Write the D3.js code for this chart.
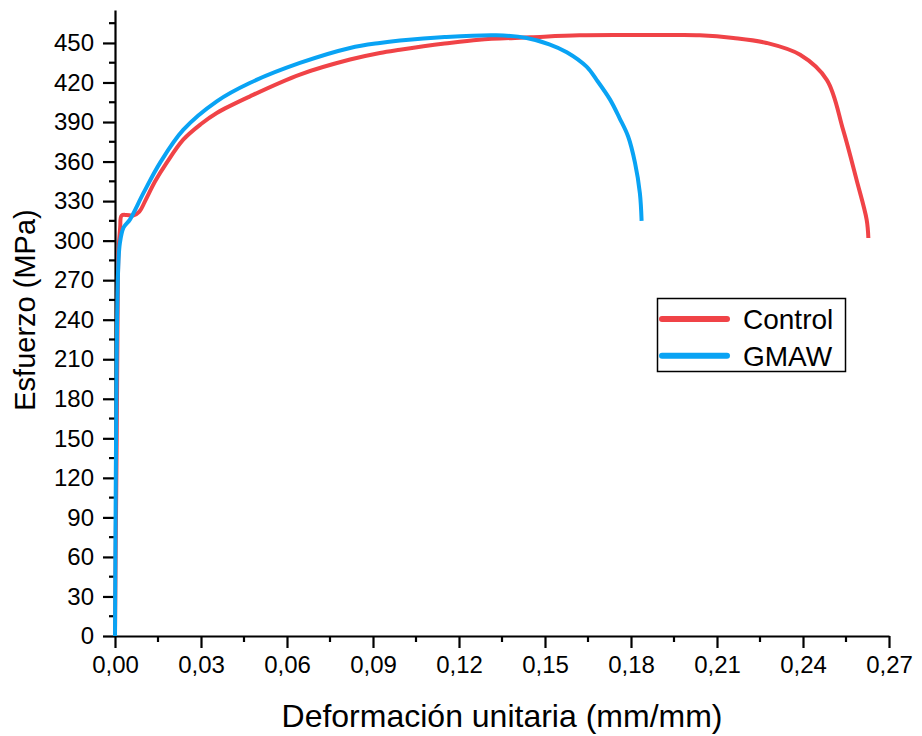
<!DOCTYPE html>
<html>
<head>
<meta charset="utf-8">
<script src="https://cdn.jsdelivr.net/npm/d3@7"></script>
<style>
  html, body { margin: 0; padding: 0; background: #fff; }
  svg { display: block; font-family: "Liberation Sans", Arial, sans-serif; }
</style>
</head>
<body>
<svg id="chart" width="922" height="736"></svg>
<script>
// ---- Data ----
const seriesNames = ["Control", "GMAW"];
const seriesColors = ["#F04347", "#09A3F4"];

const controlStrain = [0, 0.0003, 0.0006, 0.0009, 0.0012, 0.0018, 0.0023, 0.004, 0.0063, 0.0085, 0.0105, 0.014, 0.018, 0.0238, 0.03, 0.0355, 0.0471, 0.0645, 0.082, 0.0924, 0.0994, 0.115, 0.127, 0.145, 0.162, 0.18, 0.195, 0.204, 0.2157, 0.2273, 0.239, 0.2483, 0.254, 0.2587, 0.2622, 0.2628];
const controlStress = [0, 80, 150, 240, 290, 310, 319, 319.5, 319, 322, 330, 345, 359, 376.6, 388.5, 396.9, 409.5, 426, 437.4, 442.4, 444.8, 449.5, 452.5, 454.3, 455.8, 456, 456, 455.8, 453.8, 450, 441, 422, 384, 346, 316, 302];

const gmawStrain = [0, 0.0003, 0.0006, 0.0011, 0.0017, 0.003, 0.0052, 0.0099, 0.0157, 0.0238, 0.0355, 0.047, 0.0645, 0.082, 0.0924, 0.0994, 0.115, 0.133, 0.1436, 0.1515, 0.1576, 0.1645, 0.168, 0.1727, 0.176, 0.179, 0.1814, 0.1831, 0.1837];
const gmawStress = [0, 130, 215, 278, 298, 310, 316, 336, 359, 384, 405.7, 419.6, 434.8, 446.2, 450, 451.8, 454.5, 455.8, 453.8, 449, 443, 432, 422, 407, 393, 379, 359, 336, 315];

const xTicks = [0, 0.03, 0.06, 0.09, 0.12, 0.15, 0.18, 0.21, 0.24, 0.27];
const yTicks = [0, 30, 60, 90, 120, 150, 180, 210, 240, 270, 300, 330, 360, 390, 420, 450];
const xTitle = "Deformación unitaria (mm/mm)";
const yTitle = "Esfuerzo (MPa)";

// ---- Layout ----
const svg = d3.select("#chart");
const mLeft = 115, mRight = 889, mTop = 10, mBottom = 636;

const x = d3.scaleLinear().domain([0, 0.27]).range([mLeft, mRight]);
const y = d3.scaleLinear().domain([0, 475]).range([mBottom, mTop]);

const fmt = v => d3.format(".2f")(v).replace(".", ",");

// minor ticks
const xMinor = d3.range(0.015, 0.27, 0.03);
const yMinor = d3.range(15, 475, 30);

// X axis
const xAxis = svg.append("g").attr("transform", `translate(0,${mBottom})`);
xAxis.call(d3.axisBottom(x).tickValues(xTicks).tickFormat(fmt).tickSize(12).tickSizeOuter(0).tickPadding(8));
xAxis.select(".domain").attr("stroke", "#000").attr("stroke-width", 2.2);
xAxis.selectAll(".tick line").attr("stroke", "#000").attr("stroke-width", 2.2);
xAxis.selectAll(".tick text").attr("font-size", 24).attr("fill", "#000").attr("font-family", "Liberation Sans, Arial, sans-serif");
xAxis.selectAll(".minor").data(xMinor).enter().append("line")
  .attr("x1", d => x(d)).attr("x2", d => x(d)).attr("y1", 0).attr("y2", 6)
  .attr("stroke", "#000").attr("stroke-width", 2.2);

// Y axis
const yAxis = svg.append("g").attr("transform", `translate(${mLeft},0)`);
yAxis.call(d3.axisLeft(y).tickValues(yTicks).tickFormat(d3.format("d")).tickSize(12).tickSizeOuter(0).tickPadding(9));
yAxis.select(".domain").attr("stroke", "#000").attr("stroke-width", 2.2);
yAxis.selectAll(".tick line").attr("stroke", "#000").attr("stroke-width", 2.2);
yAxis.selectAll(".tick text").attr("font-size", 24).attr("fill", "#000").attr("font-family", "Liberation Sans, Arial, sans-serif");
yAxis.selectAll(".minor").data(yMinor).enter().append("line")
  .attr("y1", d => y(d)).attr("y2", d => y(d)).attr("x1", 0).attr("x2", -6)
  .attr("stroke", "#000").attr("stroke-width", 2.2);

// Titles
svg.append("text").attr("x", 502).attr("y", 727)
  .attr("text-anchor", "middle").attr("font-size", 32).attr("fill", "#000").text(xTitle);
svg.append("text").attr("transform", `translate(35,310) rotate(-90)`)
  .attr("text-anchor", "middle").attr("font-size", 29).attr("fill", "#000").text(yTitle);

// Lines
const line = d3.line().x(d => x(d[0])).y(d => y(d[1])).curve(d3.curveCatmullRom.alpha(0.5));
const series = [
  d3.zip(controlStrain, controlStress),
  d3.zip(gmawStrain, gmawStress)
];
series.forEach((s, i) => {
  svg.append("path").datum(s).attr("d", line)
    .attr("fill", "none").attr("stroke", seriesColors[i]).attr("stroke-width", 4)
    .attr("stroke-linejoin", "round").attr("stroke-linecap", "butt");
});

// Legend
const lg = svg.append("g");
lg.append("rect").attr("x", 657.5).attr("y", 298.5).attr("width", 188).attr("height", 73)
  .attr("fill", "#fff").attr("stroke", "#000").attr("stroke-width", 1.5);
seriesNames.forEach((n, i) => {
  const yy = 319 + i * 36.7;
  lg.append("line").attr("x1", 662).attr("x2", 727).attr("y1", yy).attr("y2", yy)
    .attr("stroke", seriesColors[i]).attr("stroke-width", 6).attr("stroke-linecap", "round");
  lg.append("text").attr("x", 743).attr("y", yy + 10).attr("font-size", 28).attr("fill", "#000").text(n);
});
</script>
</body>
</html>
